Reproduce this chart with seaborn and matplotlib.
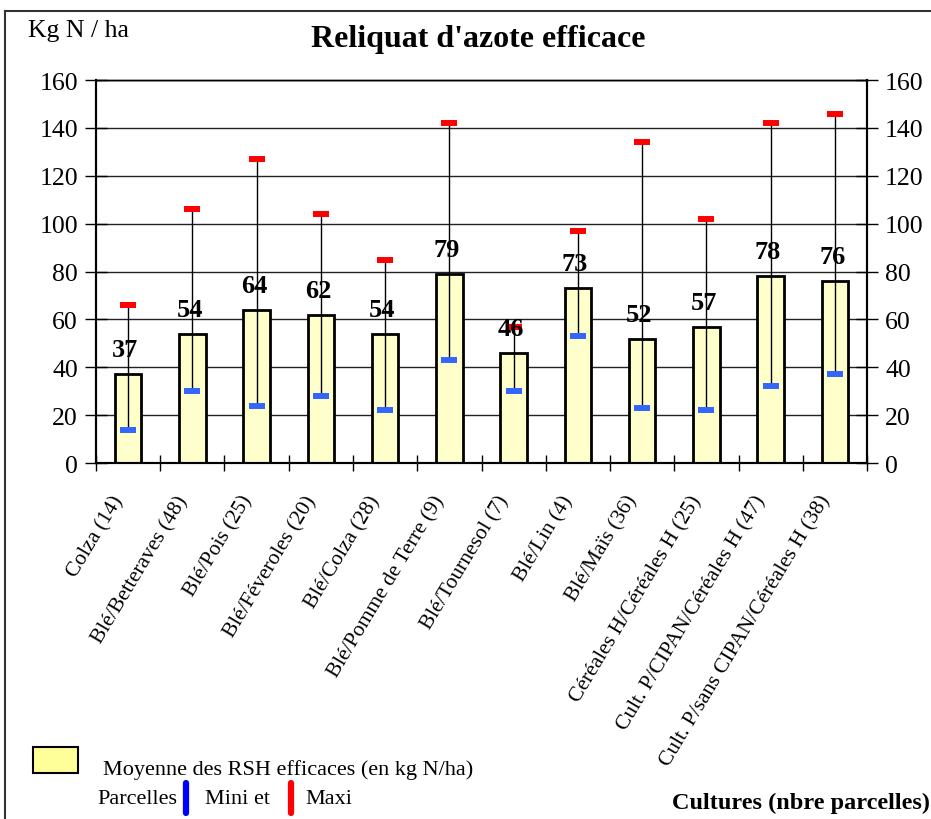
import numpy as np
import pandas as pd
import seaborn as sns
import matplotlib.pyplot as plt
import matplotlib.transforms as mtransforms
from matplotlib.lines import Line2D
from matplotlib.patches import Rectangle

cultures = ["Colza (14)", "Blé/Betteraves (48)", "Blé/Pois (25)", "Blé/Féveroles (20)",
            "Blé/Colza (28)", "Blé/Pomme de Terre (9)", "Blé/Tournesol (7)", "Blé/Lin (4)",
            "Blé/Maïs (36)", "Céréales H/Céréales H (25)", "Cult. P/CIPAN/Céréales H (47)",
            "Cult. P/sans CIPAN/Céréales H (38)"]
moyenne = [37, 54, 64, 62, 54, 79, 46, 73, 52, 57, 78, 76]
mini = [14, 30, 24, 28, 22, 43, 30, 53, 23, 22, 32, 37]
maxi = [66, 106, 127, 104, 85, 142, 57, 97, 134, 102, 142, 146]
y_ticks = [0, 20, 40, 60, 80, 100, 120, 140, 160]

plt.rcParams['font.family'] = ['Liberation Serif', 'DejaVu Serif']

df = pd.DataFrame({"Culture": cultures, "Moyenne": moyenne, "Mini": mini, "Maxi": maxi})
x = np.arange(len(cultures))

fig = plt.figure(figsize=(9.31, 8.2), dpi=100)
ax = fig.add_axes([0.1031, 0.4341, 0.8282, 0.4671])

ax.set_axisbelow(True)
ax.yaxis.grid(True, color='#222222', lw=1)
sns.barplot(data=df, x="Culture", y="Moyenne", color='#ffffcc', saturation=1,
            edgecolor='black', linewidth=2, width=0.41, ax=ax, zorder=2)

# min-max ranges
ax.vlines(x, df.Mini, df.Maxi, color='black', lw=1, zorder=3)
ax.hlines(df.Maxi, x - 0.125, x + 0.125, color='#ff0000', lw=4.3, zorder=4)
ax.hlines(df.Mini, x - 0.125, x + 0.125, color='#3366ff', lw=4.3, zorder=4)

for i, v in enumerate(moyenne):
    ax.annotate(str(v), (i, v), xytext=(-2, 13), textcoords='offset points',
                ha='center', va='baseline', fontsize=19, fontweight='bold', zorder=5)

ax.set_xlim(-0.5, len(cultures) - 0.5)
ax.set_ylim(0, 160)
ax.set_yticks(y_ticks)
ax.set_xticks(x)
ax.set_xticklabels(cultures, rotation=59, ha='right', va='center', rotation_mode='anchor', fontsize=15.5)
ax.set_xticks(np.arange(-0.5, len(cultures), 1), minor=True)
ax.tick_params(axis='x', which='major', length=0, pad=22)
ax.tick_params(axis='x', which='minor', length=12, direction='inout', width=1)
ax.tick_params(axis='y', length=16, direction='inout', width=1, labelsize=18.5, pad=5)
ax.set_xlabel('')
ax.set_ylabel('')
for s in ax.spines.values():
    s.set_linewidth(1.5)
ax.spines['top'].set_linewidth(1)

ax2 = ax.twinx()
ax2.set_ylim(0, 160)
ax2.set_yticks(y_ticks)
ax2.tick_params(axis='y', length=16, direction='inout', width=1, labelsize=18.5, pad=5)
for s in ax2.spines.values():
    s.set_linewidth(1.5)
ax2.spines['top'].set_linewidth(1)

# nudge the rotated category labels a little left and down
shift = mtransforms.ScaledTranslation(-9 / 100, -3 / 100, fig.dpi_scale_trans)
for lab in ax.get_xticklabels():
    lab.set_transform(lab.get_transform() + shift)

# titles
fig.text(28 / 931, 1 - 31 / 820, 'Kg N / ha', fontsize=18.5, ha='left', va='center')
fig.text(478 / 931, 1 - 40 / 820, "Reliquat d'azote efficace", fontsize=23,
         fontweight='bold', ha='center', va='center')

# legend drawn by hand
fig.patches.append(Rectangle((33 / 931, 1 - 774 / 820), 45 / 931, 26 / 820,
                             transform=fig.transFigure, facecolor='#ffff99',
                             edgecolor='black', lw=1.5))
fig.text(103 / 931, 1 - 770 / 820, 'Moyenne des RSH efficaces (en kg N/ha)', fontsize=16,
         ha='left', va='center')
fig.text(97 / 931, 1 - 800 / 820, 'Parcelles', fontsize=16, ha='left', va='center')
fig.lines.append(Line2D([186 / 931, 186 / 931], [1 - 784 / 820, 1 - 814 / 820],
                        transform=fig.transFigure, color='#0000ff', lw=4.5,
                        solid_capstyle='round'))
fig.text(205 / 931, 1 - 800 / 820, 'Mini et', fontsize=16, ha='left', va='center')
fig.lines.append(Line2D([291 / 931, 291 / 931], [1 - 784 / 820, 1 - 814 / 820],
                        transform=fig.transFigure, color='#ff0000', lw=4.5,
                        solid_capstyle='round'))
fig.text(305 / 931, 1 - 800 / 820, 'Maxi', fontsize=16, ha='left', va='center')
fig.text(930 / 931, 1 - 803 / 820, 'Cultures (nbre parcelles)', fontsize=17.5,
         fontweight='bold', ha='right', va='center')

# outer frame
fig.lines.append(Line2D([5 / 931, 1], [1 - 12 / 820, 1 - 12 / 820], transform=fig.transFigure,
                        color='#333333', lw=1.5))
fig.lines.append(Line2D([5 / 931, 5 / 931], [0, 1 - 12 / 820], transform=fig.transFigure,
                        color='#333333', lw=1.5))

fig.savefig('out.png', dpi=100)
